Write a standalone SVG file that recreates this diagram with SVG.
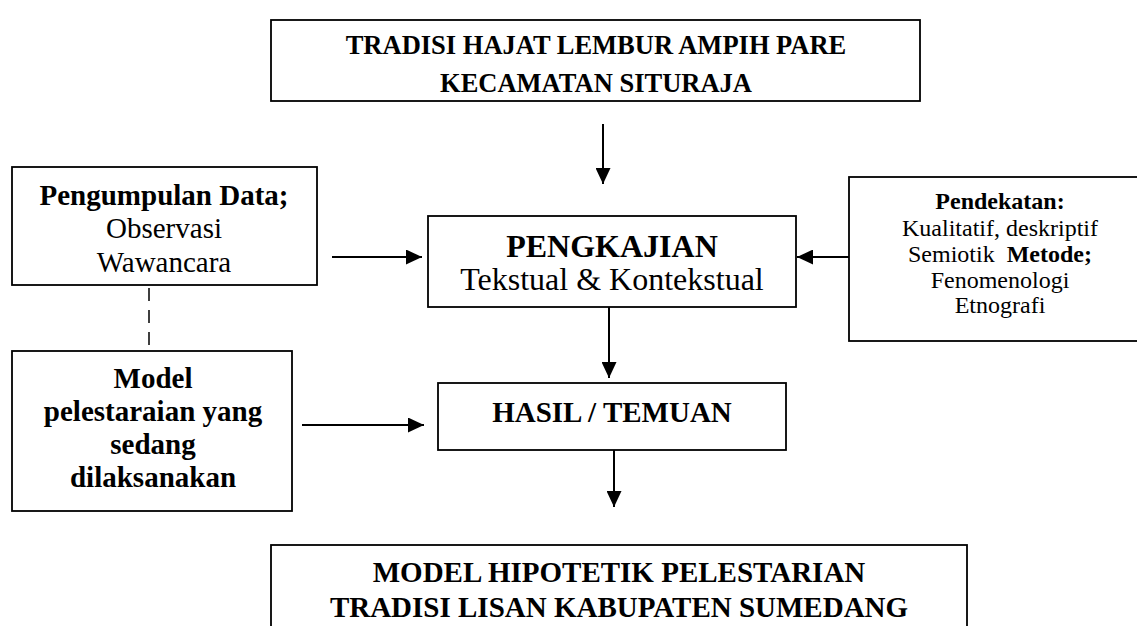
<svg xmlns="http://www.w3.org/2000/svg" width="1137" height="626" viewBox="0 0 1137 626">
<style>
.box{fill:#fff;stroke:#000;stroke-width:1.8}
.t{font-family:"Liberation Serif","Times New Roman",serif;fill:#000;text-anchor:middle}
.b{font-weight:bold}
.c{stroke:#000;stroke-width:2;fill:none}
.d{stroke:#000;stroke-width:1.5;fill:none;stroke-dasharray:13 9}
</style>
<defs>
<marker id="ah" markerUnits="userSpaceOnUse" markerWidth="16" markerHeight="15" refX="16" refY="7.5" orient="auto">
<path d="M0,0 L16,7.5 L0,15 z" fill="#000"/>
</marker>
</defs>
<rect width="1137" height="626" fill="#fff"/>
<g id="connectors">
<line class="c" x1="603" y1="124" x2="603" y2="184" marker-end="url(#ah)"/>
<line class="c" x1="332" y1="257" x2="422" y2="257" marker-end="url(#ah)"/>
<line class="c" x1="849" y1="257" x2="797" y2="257" marker-end="url(#ah)"/>
<line class="c" x1="609" y1="307" x2="609" y2="378" marker-end="url(#ah)"/>
<line class="c" x1="302" y1="425" x2="424" y2="425" marker-end="url(#ah)"/>
<line class="c" x1="614" y1="450" x2="614" y2="507" marker-end="url(#ah)"/>
<line class="d" x1="149" y1="288" x2="149" y2="351"/>
</g>
<g id="top">
<rect class="box" x="271" y="20" width="649" height="81"/>
<text class="t b" x="596" y="54" font-size="26.5">TRADISI HAJAT LEMBUR AMPIH PARE</text>
<text class="t b" x="596" y="92" font-size="26.5">KECAMATAN SITURAJA</text>
</g>
<g id="pengumpulan">
<rect class="box" x="12" y="167" width="305" height="118"/>
<text class="t b" x="164" y="205" font-size="29">Pengumpulan Data;</text>
<text class="t" x="164" y="238" font-size="29">Observasi</text>
<text class="t" x="164" y="272" font-size="29">Wawancara</text>
</g>
<g id="pengkajian">
<rect class="box" x="428" y="216" width="368" height="91"/>
<text class="t b" x="612" y="257" font-size="32">PENGKAJIAN</text>
<text class="t" x="612" y="290" font-size="32">Tekstual &amp; Kontekstual</text>
</g>
<g id="pendekatan">
<rect class="box" x="849" y="177" width="300" height="164"/>
<text class="t b" x="1000" y="209" font-size="24">Pendekatan:</text>
<text class="t" x="1000" y="236" font-size="24">Kualitatif, deskriptif</text>
<text class="t" x="1000" y="262" font-size="24" xml:space="preserve">Semiotik  <tspan class="b">Metode;</tspan></text>
<text class="t" x="1000" y="288" font-size="24">Fenomenologi</text>
<text class="t" x="1000" y="313" font-size="24">Etnografi</text>
</g>
<g id="model">
<rect class="box" x="12" y="351" width="280" height="160"/>
<text class="t b" x="153" y="388" font-size="29">Model</text>
<text class="t b" x="153" y="421" font-size="29">pelestaraian yang</text>
<text class="t b" x="153" y="454" font-size="29">sedang</text>
<text class="t b" x="153" y="487" font-size="29">dilaksanakan</text>
</g>
<g id="hasil">
<rect class="box" x="438" y="383" width="348" height="67"/>
<text class="t b" x="612" y="422" font-size="29">HASIL / TEMUAN</text>
</g>
<g id="hipotetik">
<rect class="box" x="271" y="545" width="696" height="100"/>
<text class="t b" x="619" y="582" font-size="29">MODEL HIPOTETIK PELESTARIAN</text>
<text class="t b" x="619" y="617" font-size="29">TRADISI LISAN KABUPATEN SUMEDANG</text>
</g>
</svg>
